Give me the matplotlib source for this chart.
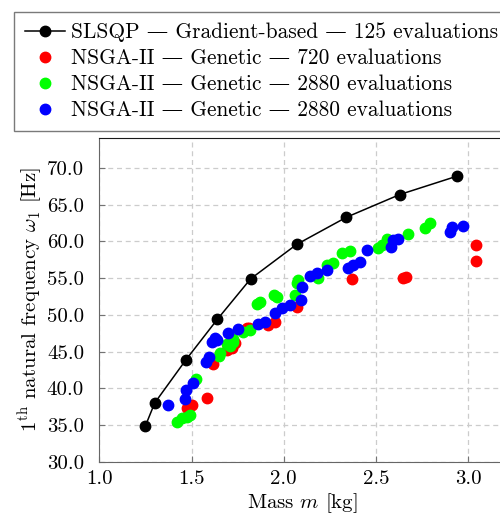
import matplotlib
matplotlib.use("Agg")
import matplotlib.pyplot as plt

plt.rcParams['font.family'] = ['cmr10', 'DejaVu Serif']
plt.rcParams['mathtext.fontset'] = 'cm'
plt.rcParams['axes.formatter.use_mathtext'] = True
plt.rcParams['font.size'] = 15

# SLSQP — gradient based
m_slsqp = [1.25, 1.30, 1.47, 1.64, 1.82, 2.07, 2.34, 2.63, 2.94]
f_slsqp = [34.9, 38.0, 43.9, 49.4, 54.9, 59.6, 63.3, 66.4, 68.9]

# NSGA-II, 720 evaluations
m_red = [1.474, 1.50, 1.585, 1.615, 1.69, 1.718, 1.736, 1.80, 1.81, 1.917,
         1.953, 2.07, 2.371, 2.649, 2.664, 3.042, 3.042]
f_red = [37.3, 37.7, 38.7, 43.3, 45.2, 45.5, 46.2, 48.2, 48.2, 48.6,
         49.1, 51.1, 54.85, 55.0, 55.2, 59.5, 57.3]

# NSGA-II, 2880 evaluations (green)
m_green = [1.42, 1.447, 1.474, 1.49, 1.524, 1.65, 1.654, 1.69, 1.708, 1.727,
           1.727, 1.78, 1.817, 1.854, 1.871, 1.947, 1.965, 2.061, 2.07, 2.079,
           2.188, 2.233, 2.266, 2.315, 2.36, 2.513, 2.532, 2.559, 2.676, 2.767, 2.794]
f_green = [35.45, 35.9, 36.05, 36.4, 41.2, 44.4, 44.8, 46.1, 45.7, 46.3,
           46.7, 47.7, 47.9, 51.5, 51.8, 52.7, 52.5, 52.7, 54.3, 54.75,
           55.0, 56.8, 57.1, 58.4, 58.7, 59.1, 59.5, 60.3, 61.0, 61.8, 62.5]

# NSGA-II, 2880 evaluations (blue)
m_blue = [1.374, 1.464, 1.468, 1.51, 1.578, 1.596, 1.609, 1.627, 1.636, 1.70,
          1.754, 1.862, 1.899, 1.953, 1.989, 2.034, 2.092, 2.098, 2.143, 2.179,
          2.237, 2.351, 2.378, 2.414, 2.45, 2.582, 2.595, 2.622, 2.902, 2.911, 2.975]
f_blue = [37.7, 38.6, 39.8, 40.7, 43.6, 44.3, 46.3, 46.8, 46.6, 47.5,
          48.1, 48.8, 49.1, 50.2, 50.9, 51.35, 52.0, 53.8, 55.3, 55.7,
          56.1, 56.35, 56.8, 57.2, 58.9, 59.2, 60.2, 60.3, 61.3, 62.0, 62.15]

labels = ["SLSQP — Gradient-based — 125 evaluations",
          "NSGA-II — Genetic — 720 evaluations",
          "NSGA-II — Genetic — 2880 evaluations",
          "NSGA-II — Genetic — 2880 evaluations"]

fig = plt.figure(figsize=(5.0, 5.13), dpi=100)
ax = fig.add_axes([0.1988, 0.1, 0.811, 0.631])

ax.plot(m_slsqp, f_slsqp, '-o', color='black', lw=1.1, ms=7.5, label=labels[0])
ax.plot(m_red, f_red, 'o', color='#ff0000', ms=7.5, label=labels[1])
ax.plot(m_green, f_green, 'o', color='#00ff00', ms=7.5, label=labels[2])
ax.plot(m_blue, f_blue, 'o', color='#0000ff', ms=7.5, label=labels[3])

ax.set_xlim(1.0, 3.2)
ax.set_ylim(30.0, 74.1)
ax.set_xticks([1.0, 1.5, 2.0, 2.5, 3.0])
ax.set_yticks([30, 35, 40, 45, 50, 55, 60, 65, 70])
ax.xaxis.set_major_formatter(matplotlib.ticker.FormatStrFormatter('%.1f'))
ax.yaxis.set_major_formatter(matplotlib.ticker.FormatStrFormatter('%.1f'))
ax.tick_params(direction='in', length=4, color='0.45', labelsize=15)
ax.tick_params(axis='x', pad=6)
ax.tick_params(axis='y', pad=11)
ax.grid(True, ls=(0, (4, 3)), color='0.8', lw=0.9)
ax.set_axisbelow(True)
for s in ['left', 'bottom']:
    ax.spines[s].set_color('0.4')
ax.spines['top'].set_color('0.1')

ax.set_xlabel(r"Mass $m$ [kg]", fontsize=15, labelpad=2)
ax.set_ylabel(r"1$^{\rm th}$ natural frequency $\omega_1$ [Hz]", fontsize=15, labelpad=1)

leg = fig.legend(loc='upper left', bbox_to_anchor=(0.028, 1 - 12 / 513),
                 fontsize=15.4, frameon=True, fancybox=False, borderaxespad=0,
                 handlelength=1.87, handletextpad=0.28, labelspacing=0.3,
                 borderpad=0.5)
leg.get_frame().set_edgecolor('0.35')
leg.get_frame().set_linewidth(1.0)

fig.savefig("out.png", dpi=100)
